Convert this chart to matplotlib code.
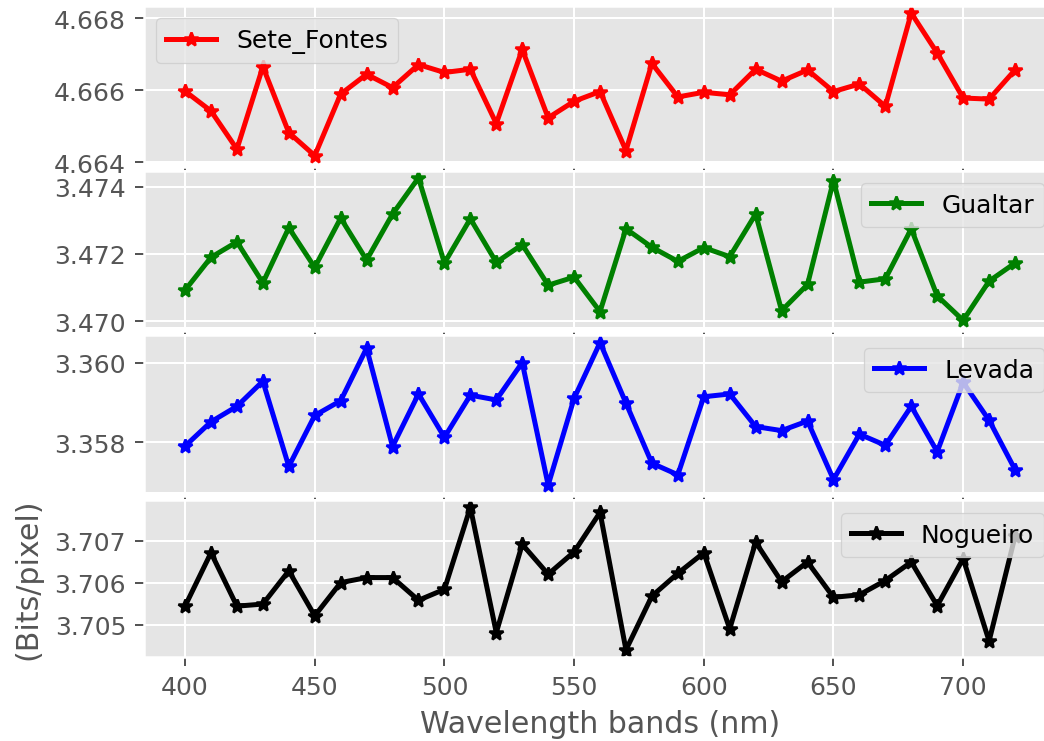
import numpy as np
import matplotlib
matplotlib.use("Agg")
import matplotlib.pyplot as plt
from matplotlib.ticker import FormatStrFormatter

plt.style.use("ggplot")

# wavelength bands (nm)
bands = list(range(400, 721, 10))

# entropy values per site (bits/pixel)
sete_fontes = [4.66597, 4.66542, 4.66436, 4.66665, 4.66482, 4.66418, 4.66589, 4.66644,
               4.66607, 4.66671, 4.66649, 4.66658, 4.66507, 4.66713, 4.66523, 4.66569,
               4.66596, 4.66432, 4.66674, 4.66581, 4.66594, 4.66587, 4.66658, 4.66625,
               4.66656, 4.66596, 4.66617, 4.66555, 4.66814, 4.66703, 4.66578, 4.66575,
               4.66656]
gualtar = [3.47092, 3.47190, 3.47236, 3.47114, 3.47278, 3.47160, 3.47307, 3.47182,
           3.47319, 3.47427, 3.47173, 3.47305, 3.47175, 3.47228, 3.47107, 3.47131,
           3.47028, 3.47275, 3.47220, 3.47178, 3.47219, 3.47192, 3.47319, 3.47031,
           3.47109, 3.47419, 3.47116, 3.47126, 3.47275, 3.47075, 3.47002, 3.47119,
           3.47173]
levada = [3.35790, 3.35851, 3.35890, 3.35953, 3.35739, 3.35867, 3.35904, 3.36036,
          3.35789, 3.35921, 3.35812, 3.35918, 3.35906, 3.36000, 3.35692, 3.35910,
          3.36050, 3.35898, 3.35747, 3.35718, 3.35914, 3.35921, 3.35839, 3.35829,
          3.35853, 3.35706, 3.35820, 3.35792, 3.35890, 3.35776, 3.35950, 3.35855,
          3.35731]
nogueiro = [3.70544, 3.70671, 3.70544, 3.70549, 3.70628, 3.70521, 3.70600, 3.70612,
            3.70612, 3.70558, 3.70584, 3.70779, 3.70481, 3.70691, 3.70620, 3.70673,
            3.70767, 3.70440, 3.70568, 3.70622, 3.70671, 3.70490, 3.70696, 3.70602,
            3.70649, 3.70565, 3.70571, 3.70605, 3.70649, 3.70545, 3.70657, 3.70461,
            3.70710]

series = [sete_fontes, gualtar, levada, nogueiro]
names = ["Sete_Fontes", "Gualtar", "Levada", "Nogueiro"]
colors = ["r", "g", "b", "k"]
legend_locs = ["upper left", "upper right", "upper right", "upper right"]
yticks = [[4.664, 4.666, 4.668],
          [3.470, 3.472, 3.474],
          [3.358, 3.360],
          [3.705, 3.706, 3.707]]

fig, axes = plt.subplots(4, 1, sharex=True, figsize=(1044 / 180, 742 / 180), dpi=180)
fig.subplots_adjust(left=0.1375, right=1.012, top=0.9906, bottom=0.1132, hspace=0.051)

for ax, vals, name, c, loc, yt in zip(axes, series, names, colors, legend_locs, yticks):
    ax.plot(bands, vals, marker="*", color=c, linewidth=2, label=name)
    ax.set_yticks(yt)
    ax.yaxis.set_major_formatter(FormatStrFormatter("%.3f"))
    ax.legend(loc=loc, borderaxespad=0.5)

# upper panels: x ticks show only as tiny dots in the gaps
for ax in axes[:-1]:
    ax.spines["bottom"].set_position(("outward", 1.6))
    ax.tick_params(axis="x", length=1.0)

axes[-1].set_xticks([400, 450, 500, 550, 600, 650, 700])
axes[-1].set_xlabel("Wavelength bands (nm)")
axes[-1].set_ylabel("(Bits/pixel)", labelpad=5)

fig.savefig("out.png", dpi=180)
